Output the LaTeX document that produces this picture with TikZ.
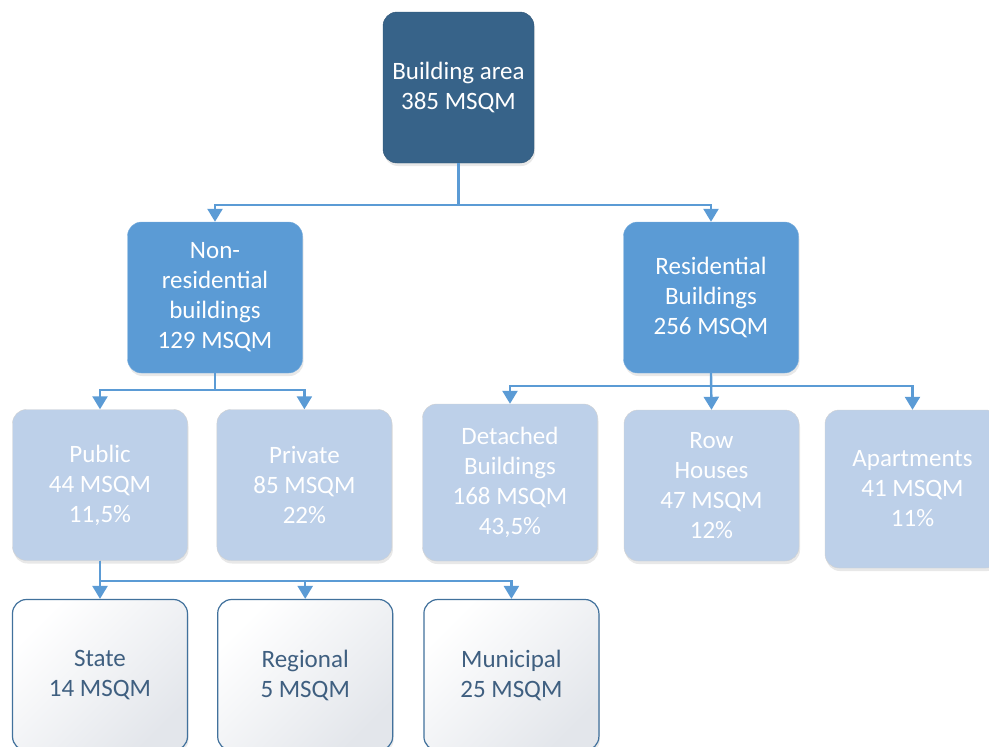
\documentclass[tikz,border=0pt]{standalone}
\usepackage{fontspec}
\setmainfont{Carlito}
\usetikzlibrary{positioning,shadows,arrows.meta}
\definecolor{rootblue}{HTML}{376389}
\definecolor{midblue}{HTML}{5B9BD5}
\definecolor{paleblue}{HTML}{BDD0E9}
\definecolor{lineblue}{HTML}{5B9BD5}
\definecolor{darkline}{HTML}{41719C}
\definecolor{darktext}{HTML}{3F5F80}
\definecolor{softgray}{HTML}{E3E6EB}

\begin{document}
\begin{tikzpicture}[x=1pt,y=-1pt,>={Triangle[length=13pt,width=15pt]},
    box/.style={rectangle,rounded corners=14pt,minimum width=175pt,
      minimum height=151pt,align=center,inner sep=0pt,
      font=\fontsize{25}{30}\selectfont,
      drop shadow={opacity=0.18,shadow xshift=1pt,shadow yshift=-3pt}},
    topbox/.style={box,fill=rootblue,draw=rootblue!85!black,text=white},
    groupbox/.style={box,fill=midblue,draw=midblue!80!white,text=white},
    sharebox/.style={box,fill=paleblue,draw=black!18,text=white},
    levelbox/.style={box,top color=white,bottom color=softgray,
      shading angle=45,draw=darkline,line width=1.2pt,text=darktext},
    link/.style={->,draw=lineblue,line width=2.4pt}]
  \useasboundingbox (0,0) rectangle (989,747);

  % top of the tree
  \node[topbox,minimum width=151pt] (root) at (458.5,87.5) {Building area\\385 MSQM};

  \node[groupbox] (nonres) at (215,297.5) {Non-\\residential\\buildings\\129 MSQM};
  \node[groupbox] (resid)  at (711,297.5) {Residential\\Buildings\\256 MSQM};

  % shares
  \node[sharebox] (public)   at (100,485)                   {Public\\44 MSQM\\11,5\%};
  \node[sharebox] (private)  [right=29pt of public]         {Private\\85 MSQM\\22\%};
  \node[sharebox,minimum height=157pt] (detached) at (510,482.5) {Detached\\Buildings\\168 MSQM\\43,5\%};
  \node[sharebox] (row)      at (711.5,485.5)               {Row\\Houses\\47 MSQM\\12\%};
  \node[sharebox,minimum height=158pt] (apart) at (912.5,489) {Apartments\\41 MSQM\\11\%};

  % public split
  \node[levelbox] (state)     at (100,675)                  {State\\14 MSQM};
  \node[levelbox] (regional)  [right=29pt of state]         {Regional\\5 MSQM};
  \node[levelbox] (municipal) [right=30pt of regional]      {Municipal\\25 MSQM};

  \draw[link] (root.south) -- ++(0,42) -| (nonres.north);
  \draw[link] (root.south) -- ++(0,42) -| (resid.north);

  \draw[link] (nonres.south) -- ++(0,17) -| (public.north);
  \draw[link] (nonres.south) -- ++(0,17) -| (private.north);

  \draw[link] (resid.south) -- ++(0,13) -| (detached.north);
  \draw[link] (resid.south) -- (row.north);
  \draw[link] (resid.south) -- ++(0,13) -| (apart.north);

  \draw[link] (public.south) -- (state.north);
  \draw[link] (public.south) -- ++(0,20) -| (regional.north);
  \draw[link] (public.south) -- ++(0,20) -| (municipal.north);
\end{tikzpicture}
\end{document}
